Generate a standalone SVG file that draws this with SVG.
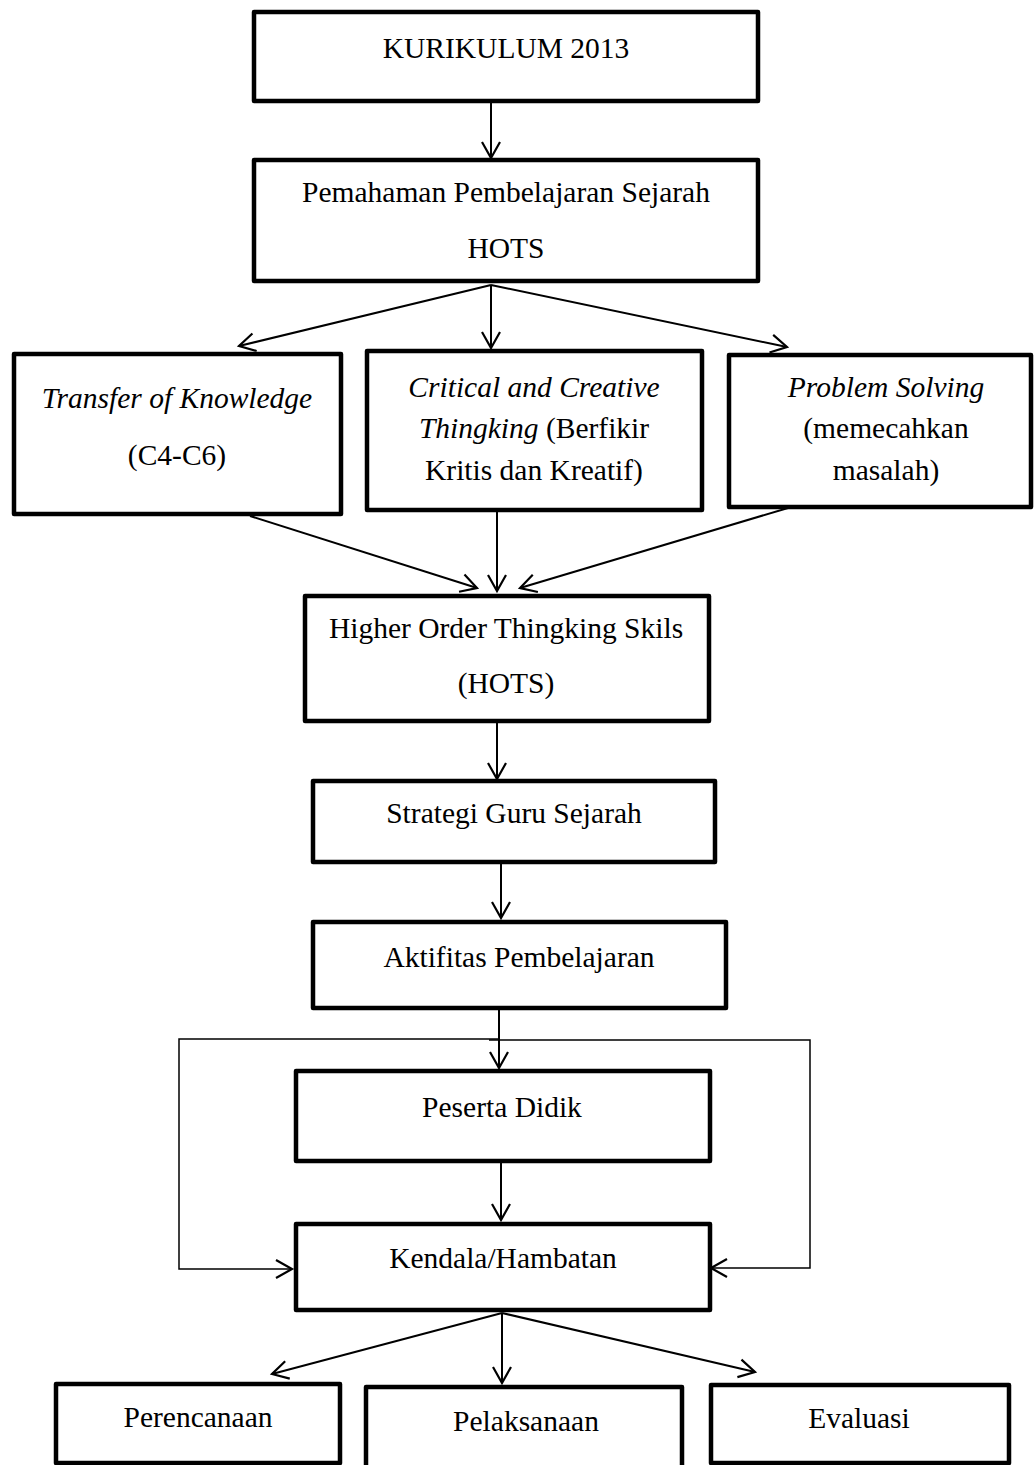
<svg xmlns="http://www.w3.org/2000/svg" width="1034" height="1465" viewBox="0 0 1034 1465">
<defs>
<marker id="ah" markerUnits="userSpaceOnUse" markerWidth="24" markerHeight="24" viewBox="0 0 24 24" refX="19" refY="12" orient="auto">
<path d="M3,3 L19,12 L3,21" fill="none" stroke="#000" stroke-width="2.2"/>
</marker>
<style>
.box{fill:#fff;stroke:#000;stroke-width:4.5;stroke-linejoin:round}
.t{font-family:"Liberation Serif","Times New Roman",serif;font-size:29.5px;fill:#000;text-anchor:middle}
.i{font-style:italic}
.c{fill:none;stroke:#000;stroke-width:2}
.l{fill:none;stroke:#000;stroke-width:1.5}
</style>
</defs>
<rect width="1034" height="1465" fill="#fff"/>
<g id="connectors">
<line class="c" x1="491" y1="101" x2="491" y2="158" marker-end="url(#ah)"/>
<line class="c" x1="491" y1="285" x2="239" y2="346" marker-end="url(#ah)"/>
<line class="c" x1="491" y1="285" x2="491" y2="348" marker-end="url(#ah)"/>
<line class="c" x1="491" y1="285" x2="787" y2="347" marker-end="url(#ah)"/>
<line class="c" x1="250" y1="516" x2="477" y2="588" marker-end="url(#ah)"/>
<line class="c" x1="497" y1="510" x2="497" y2="591" marker-end="url(#ah)"/>
<line class="c" x1="788" y1="508" x2="520" y2="588" marker-end="url(#ah)"/>
<line class="c" x1="497" y1="721" x2="497" y2="779" marker-end="url(#ah)"/>
<line class="c" x1="501" y1="862" x2="501" y2="918" marker-end="url(#ah)"/>
<line class="c" x1="499" y1="1008" x2="499" y2="1068" marker-end="url(#ah)"/>
<polyline class="l" points="500,1039 179,1039 179,1269 292,1269" marker-end="url(#ah)"/>
<polyline class="l" points="489,1040 810,1040 810,1268 711,1268" marker-end="url(#ah)"/>
<line class="c" x1="501" y1="1161" x2="501" y2="1220" marker-end="url(#ah)"/>
<line class="c" x1="502" y1="1313" x2="272" y2="1374" marker-end="url(#ah)"/>
<line class="c" x1="502" y1="1313" x2="502" y2="1383" marker-end="url(#ah)"/>
<line class="c" x1="502" y1="1313" x2="755" y2="1372" marker-end="url(#ah)"/>
</g>
<g id="n1"><rect class="box" x="254" y="12" width="504" height="89"/><text class="t" x="506" y="58">KURIKULUM 2013</text></g>
<g id="n2"><rect class="box" x="254" y="160" width="504" height="121"/><text class="t" x="506" y="202">Pemahaman Pembelajaran Sejarah</text><text class="t" x="506" y="258">HOTS</text></g>
<g id="n3"><rect class="box" x="14" y="354" width="327" height="160"/><text class="t i" x="177" y="408">Transfer of Knowledge</text><text class="t" x="177" y="465">(C4-C6)</text></g>
<g id="n4"><rect class="box" x="367" y="351" width="335" height="159"/><text class="t i" x="534" y="397">Critical and Creative</text><text class="t" x="534" y="438"><tspan class="i">Thingking</tspan> (Berfikir</text><text class="t" x="534" y="480">Kritis dan Kreatif)</text></g>
<g id="n5"><rect class="box" x="729" y="355" width="302" height="152"/><text class="t i" x="886" y="397">Problem Solving</text><text class="t" x="886" y="438">(memecahkan</text><text class="t" x="886" y="480">masalah)</text></g>
<g id="n6"><rect class="box" x="305" y="596" width="404" height="125"/><text class="t" x="506" y="638">Higher Order Thingking Skils</text><text class="t" x="506" y="693">(HOTS)</text></g>
<g id="n7"><rect class="box" x="313" y="781" width="402" height="81"/><text class="t" x="514" y="823">Strategi Guru Sejarah</text></g>
<g id="n8"><rect class="box" x="313" y="922" width="413" height="86"/><text class="t" x="519" y="967">Aktifitas Pembelajaran</text></g>
<g id="n9"><rect class="box" x="296" y="1071" width="414" height="90"/><text class="t" x="502" y="1117">Peserta Didik</text></g>
<g id="n10"><rect class="box" x="296" y="1224" width="414" height="86"/><text class="t" x="503" y="1268">Kendala/Hambatan</text></g>
<g id="n11"><rect class="box" x="56" y="1384" width="284" height="79"/><text class="t" x="198" y="1427">Perencanaan</text></g>
<g id="n12"><rect class="box" x="366" y="1387" width="316" height="90"/><text class="t" x="526" y="1431">Pelaksanaan</text></g>
<g id="n13"><rect class="box" x="711" y="1385" width="298" height="78"/><text class="t" x="859" y="1428">Evaluasi</text></g>
</svg>
